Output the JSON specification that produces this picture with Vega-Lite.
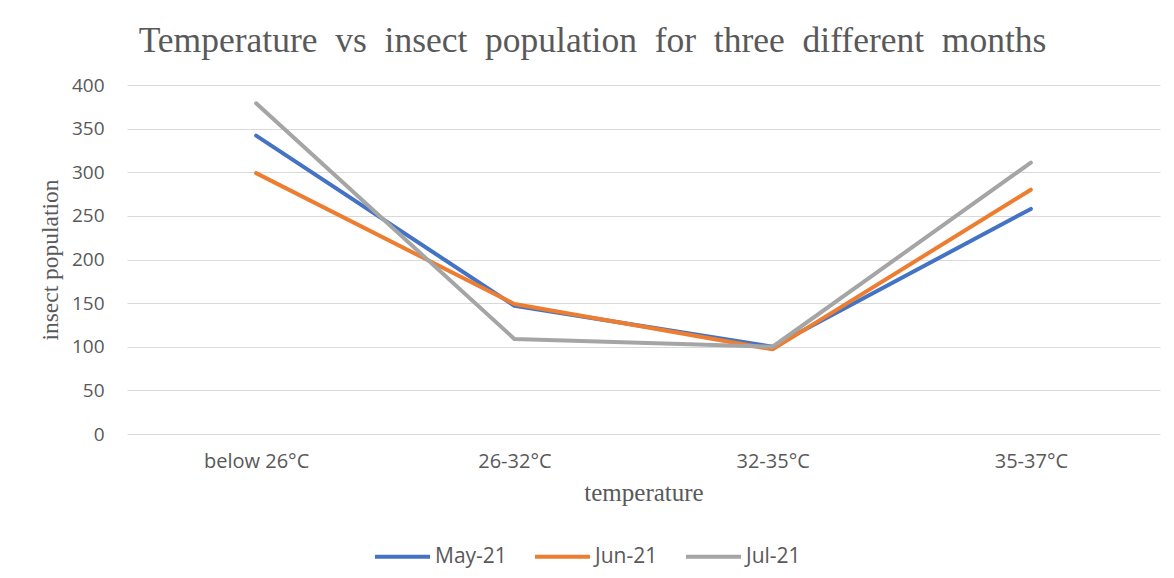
{
  "$schema": "https://vega.github.io/schema/vega-lite/v6.json",
  "autosize": {"type": "none"},
  "width": 1033,
  "height": 349,
  "padding": {"left": 127, "top": 85, "right": 14, "bottom": 144},
  "background": "white",
  "title": {
    "text": "Temperature \u00a0vs \u00a0insect \u00a0population \u00a0for \u00a0three \u00a0different \u00a0months",
    "font": "Liberation Serif",
    "fontSize": 35.5,
    "fontWeight": "normal",
    "color": "#595959",
    "anchor": "middle",
    "frame": "group",
    "dx": -51,
    "offset": 17
  },
  "data": {
    "values": [
      {"temperature": "below 26°C", "month": "May-21", "population": 342},
      {"temperature": "26-32°C", "month": "May-21", "population": 147},
      {"temperature": "32-35°C", "month": "May-21", "population": 100},
      {"temperature": "35-37°C", "month": "May-21", "population": 258},
      {"temperature": "below 26°C", "month": "Jun-21", "population": 299},
      {"temperature": "26-32°C", "month": "Jun-21", "population": 149},
      {"temperature": "32-35°C", "month": "Jun-21", "population": 97},
      {"temperature": "35-37°C", "month": "Jun-21", "population": 280},
      {"temperature": "below 26°C", "month": "Jul-21", "population": 379},
      {"temperature": "26-32°C", "month": "Jul-21", "population": 109},
      {"temperature": "32-35°C", "month": "Jul-21", "population": 100},
      {"temperature": "35-37°C", "month": "Jul-21", "population": 311}
    ]
  },
  "mark": {"type": "line", "strokeWidth": 4, "strokeCap": "round", "strokeJoin": "round"},
  "encoding": {
    "x": {
      "field": "temperature",
      "type": "nominal",
      "sort": ["below 26°C", "26-32°C", "32-35°C", "35-37°C"],
      "scale": {"type": "point", "padding": 0.5},
      "axis": {
        "title": "temperature",
        "titleFont": "Liberation Serif",
        "titleFontSize": 25,
        "titleFontWeight": "normal",
        "titleColor": "#595959",
        "titlePadding": 9,
        "labelAngle": 0,
        "labelFont": "Open Sans",
        "labelFontSize": 20,
        "labelColor": "#595959",
        "labelPadding": 17,
        "ticks": false,
        "domain": false,
        "grid": false
      }
    },
    "y": {
      "field": "population",
      "type": "quantitative",
      "scale": {"domain": [0, 400]},
      "axis": {
        "title": "insect population",
        "titleFont": "Liberation Serif",
        "titleFontSize": 23.5,
        "titleFontWeight": "normal",
        "titleColor": "#595959",
        "titlePadding": 9,
        "values": [0, 50, 100, 150, 200, 250, 300, 350, 400],
        "labelFont": "Open Sans",
        "labelFontSize": 19,
        "labelColor": "#595959",
        "labelPadding": 23,
        "ticks": false,
        "domain": false,
        "grid": true,
        "gridColor": "#d9d9d9",
        "gridWidth": 1
      }
    },
    "color": {
      "field": "month",
      "type": "nominal",
      "sort": ["May-21", "Jun-21", "Jul-21"],
      "scale": {"domain": ["May-21", "Jun-21", "Jul-21"], "range": ["#4472C4", "#ED7D31", "#A5A5A5"]},
      "legend": {
        "title": null,
        "orient": "none",
        "direction": "horizontal",
        "legendX": 246,
        "legendY": 442,
        "symbolType": "stroke",
        "symbolSize": 3025,
        "symbolStrokeWidth": 4,
        "labelFont": "Open Sans",
        "labelFontSize": 21,
        "labelColor": "#595959",
        "labelOffset": 3,
        "columnPadding": 20
      }
    }
  },
  "config": {
    "view": {"stroke": null}
  }
}
